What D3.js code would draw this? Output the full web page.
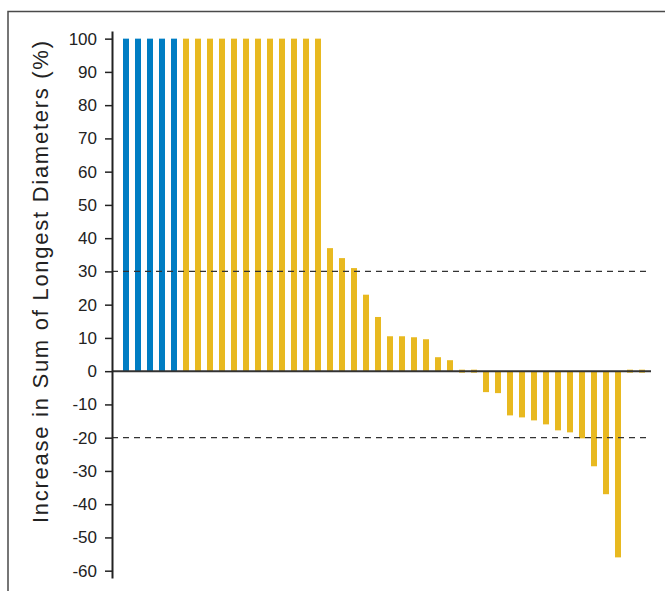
<!DOCTYPE html>
<html>
<head>
<meta charset="utf-8">
<script src="https://cdn.jsdelivr.net/npm/d3@7/dist/d3.min.js"></script>
<style>
body { margin: 0; background: #fff; }
.axis text { font-family: "Liberation Sans", Arial, sans-serif; font-size: 17px; fill: #222; }
.axis path, .axis line { stroke: #222; }
</style>
</head>
<body>
<div class="mainviz"></div>
<script>
// values (% change in sum of longest diameters)
var blueValues = [100, 100, 100, 100, 100];
var yellowValues = [100, 100, 100, 100, 100, 100, 100, 100, 100, 100, 100, 100,
	37, 34, 31, 23, 16.3, 10.5, 10.5, 10.2, 9.6, 4.2, 3.3, 0, 0,
	-6.3, -6.6, -13.3, -13.9, -14.8, -16, -17.8, -18.4, -20.2, -28.6, -37, -56, 0, 0];
var yTicks = [100, 90, 80, 70, 60, 50, 40, 30, 20, 10, 0, -10, -20, -30, -40, -50, -60];
var refLines = [30, -20];
var yLabel = "Increase in Sum of Longest Diameters (%)";

var data = blueValues.map(function (v) { return { value: v, group: "blue" }; })
	.concat(yellowValues.map(function (v) { return { value: v, group: "yellow" }; }));
data.forEach(function (d, i) { d.id = i + 1; });

var width = 665, height = 591;
var colors = { blue: "#007dc3", yellow: "#e8b920" };

var svg = d3.select(".mainviz").append("svg")
	.attr("width", width)
	.attr("height", height);

// frame cut by the window edges
svg.append("path")
	.attr("d", "M8," + height + "V11.5H" + width)
	.attr("fill", "none")
	.attr("stroke", "#4a4a4a")
	.attr("stroke-width", 1.5);

var y = d3.scaleLinear()
	.domain([-62.2, 102.3])
	.range([578, 31]);

var x = d3.scaleBand()
	.domain(data.map(function (d) { return d.id; }))
	.range([120, 648])
	.paddingInner(0.5)
	.paddingOuter(0.25);

var axisX = 112, lineEnd = 651;

svg.selectAll("rect.bar")
	.data(data)
	.enter().append("rect")
	.attr("class", "bar")
	.attr("x", function (d) { return x(d.id); })
	.attr("width", x.bandwidth())
	.attr("y", function (d) { return d.value === 0 ? y(0) - 1.5 : y(Math.max(0, d.value)); })
	.attr("height", function (d) { return d.value === 0 ? 3 : Math.abs(y(d.value) - y(0)); })
	.attr("fill", function (d) { return colors[d.group]; });

svg.selectAll("line.ref")
	.data(refLines)
	.enter().append("line")
	.attr("class", "ref")
	.attr("x1", axisX).attr("x2", lineEnd)
	.attr("y1", function (d) { return y(d); })
	.attr("y2", function (d) { return y(d); })
	.attr("stroke", "#333")
	.attr("stroke-width", 1.3)
	.attr("stroke-dasharray", "6,5");

svg.append("line")
	.attr("x1", axisX).attr("x2", lineEnd)
	.attr("y1", y(0)).attr("y2", y(0))
	.attr("stroke", "#333")
	.attr("stroke-width", 2);

var yAxis = d3.axisLeft(y)
	.tickValues(yTicks)
	.tickFormat(function (d) { return String(d); })
	.tickSize(7)
	.tickSizeOuter(0)
	.tickPadding(8);

var gy = svg.append("g")
	.attr("class", "axis y")
	.attr("transform", "translate(" + axisX + ",0)")
	.call(yAxis);
gy.select(".domain").attr("stroke-width", 2);
gy.selectAll(".tick line").attr("stroke-width", 1.5);

svg.append("text")
	.attr("transform", "translate(48," + 282 + ") rotate(-90)")
	.attr("text-anchor", "middle")
	.attr("font-family", "'Liberation Sans', Arial, sans-serif")
	.attr("font-size", 22)
	.attr("fill", "#222")
	.attr("textLength", 482)
	.attr("lengthAdjust", "spacing")
	.text(yLabel);
</script>
</body>
</html>
